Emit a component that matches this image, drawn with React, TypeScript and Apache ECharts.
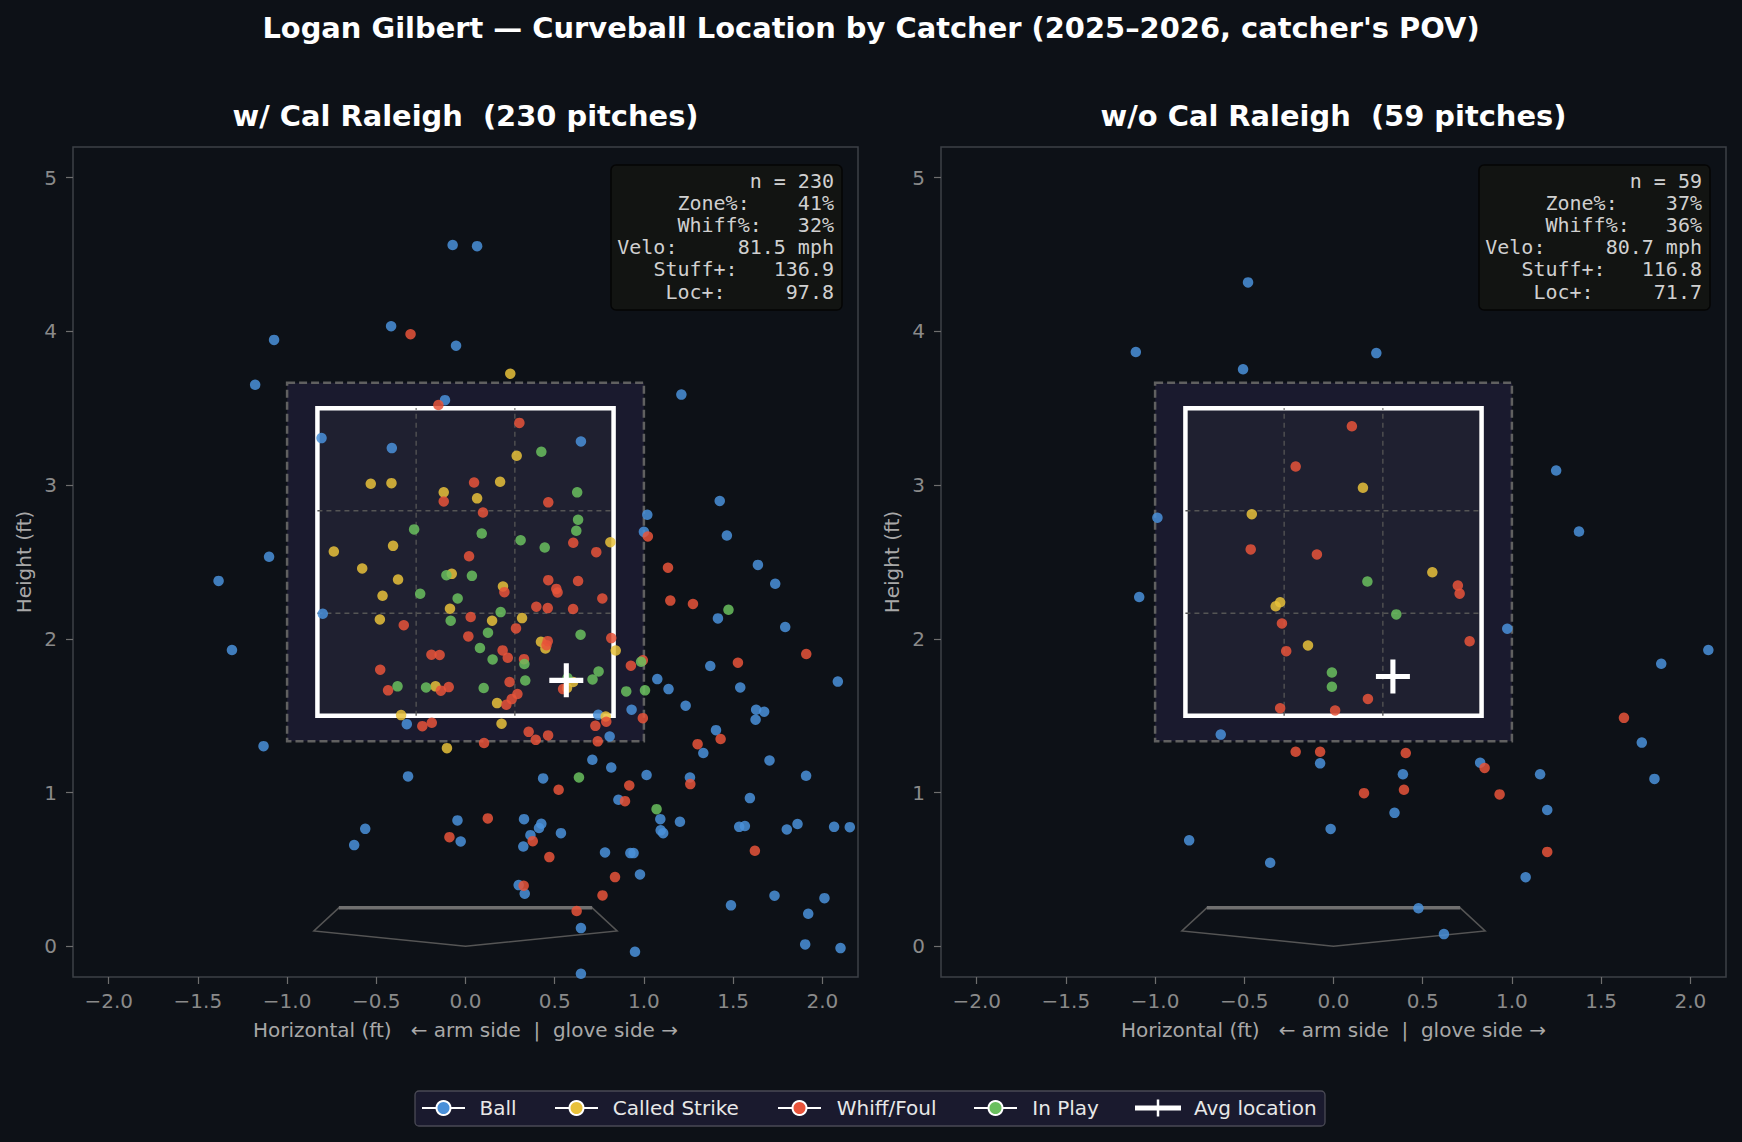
import { useEffect, useRef } from 'react';
import * as echarts from 'echarts';

// ---- chart data -------------------------------------------------------------

const MAIN_TITLE = "Logan Gilbert — Curveball Location by Catcher (2025–2026, catcher's POV)";
const PANEL_NAMES = ['w/ Cal Raleigh', 'w/o Cal Raleigh'];
const PITCH_COUNTS = [230, 59];

const OUTCOMES = ['Ball', 'Called Strike', 'Whiff/Foul', 'In Play'];
const OUTCOME_COLORS = ['#4a90d9', '#e8c13a', '#e8533a', '#6abf5e'];

const X_TICKS = [-2, -1.5, -1, -0.5, 0, 0.5, 1, 1.5, 2];
const Y_TICKS = [0, 1, 2, 3, 4, 5];

// plate_x / plate_z (ft), catcher's view
const withBall: [number, number][] = [
  [-0.115, 3.553], [-0.807, 3.306], [0.647, 3.284], [-0.413, 3.241], [1.019, 2.807], [1.0, 2.696],
  [-0.8, 2.163], [1.075, 1.738],
  [-0.329, 1.445], [-1.132, 1.302], [-0.322, 1.105], [0.435, 1.092], [-0.562, 0.764], [-0.624, 0.658],
  [-0.045, 0.819], [-0.027, 0.682], [0.328, 0.827], [0.425, 0.797], [0.412, 0.769], [0.364, 0.723],
  [0.324, 0.649], [0.535, 0.736], [0.298, 0.398], [0.332, 0.342],
  [0.744, 1.506], [0.931, 1.539], [0.808, 1.365], [1.234, 1.565], [1.629, 1.539], [1.674, 1.526],
  [1.626, 1.474], [1.404, 1.406], [1.333, 1.257], [1.704, 1.209], [1.909, 1.109], [0.711, 1.213],
  [0.817, 1.163], [1.015, 1.114], [1.258, 1.098], [0.857, 0.953], [1.594, 0.964], [1.092, 0.827],
  [1.202, 0.81], [1.094, 0.754], [1.108, 0.736], [1.534, 0.777], [1.566, 0.782], [1.801, 0.76],
  [1.861, 0.795], [2.066, 0.777], [2.154, 0.775], [0.782, 0.61], [0.924, 0.606], [0.942, 0.606],
  [0.978, 0.467], [1.732, 0.329], [1.488, 0.266], [2.012, 0.313], [1.921, 0.211], [0.647, 0.118],
  [0.95, -0.036], [1.904, 0.012], [2.102, -0.012], [0.647, -0.179],
  [-0.072, 4.562], [0.065, 4.555], [-0.417, 4.034], [-0.053, 3.907], [-1.073, 3.945], [-1.179, 3.653],
  [-1.101, 2.534], [-1.384, 2.377], [-1.309, 1.927], [1.21, 3.589], [1.425, 2.897], [1.465, 2.672],
  [1.639, 2.481], [1.736, 2.358], [1.415, 2.133], [1.792, 2.077], [1.372, 1.823], [2.087, 1.722],
  [1.138, 1.673], [1.54, 1.684],
];
const withCalledStrike: [number, number][] = [
  [0.251, 3.725], [0.287, 3.191], [-0.531, 3.009], [-0.415, 3.013], [0.194, 3.022], [-0.122, 2.953],
  [0.065, 2.914], [0.812, 2.629], [-0.738, 2.568], [-0.406, 2.605], [-0.579, 2.458], [-0.077, 2.423],
  [-0.378, 2.386], [0.21, 2.341], [-0.465, 2.28], [-0.087, 2.196], [-0.48, 2.126], [0.149, 2.118],
  [0.317, 2.135], [0.423, 1.981], [0.448, 1.937], [0.842, 1.924], [0.603, 1.719], [0.569, 1.68],
  [-0.168, 1.691],
  [0.177, 1.582], [-0.361, 1.504], [0.202, 1.448], [-0.104, 1.289], [0.786, 1.495],
];
const withWhiffFoul: [number, number][] = [
  [-0.152, 3.521], [0.302, 3.405], [0.048, 3.017], [-0.122, 2.894], [0.464, 2.888], [0.098, 2.822],
  [1.022, 2.666], [0.604, 2.625], [0.733, 2.564], [0.02, 2.537], [0.464, 2.382], [0.631, 2.376],
  [0.218, 2.304], [0.509, 2.325], [0.516, 2.302], [0.767, 2.263], [0.397, 2.209], [0.461, 2.2],
  [0.603, 2.194], [0.029, 2.142], [-0.346, 2.089], [0.283, 2.068], [0.016, 2.016], [0.817, 2.005],
  [0.461, 1.985], [0.454, 1.959], [0.208, 1.925], [0.237, 1.877], [-0.191, 1.897], [-0.145, 1.895],
  [0.328, 1.868], [0.927, 1.825], [0.994, 1.86], [-0.478, 1.799], [0.247, 1.719], [0.547, 1.673],
  [-0.434, 1.665], [-0.138, 1.663], [-0.094, 1.686], [0.291, 1.641], [0.259, 1.608],
  [0.229, 1.571], [-0.242, 1.432], [-0.189, 1.454], [0.354, 1.395], [0.394, 1.343], [0.463, 1.372],
  [0.104, 1.322], [0.522, 1.018], [0.125, 0.832], [-0.09, 0.71], [0.377, 0.684], [0.47, 0.58],
  [0.326, 0.394],
  [0.789, 1.461], [0.728, 1.434], [0.994, 1.484], [0.741, 1.333], [1.43, 1.348], [1.301, 1.315],
  [1.26, 1.055], [0.918, 1.046], [0.894, 0.944], [1.622, 0.621], [0.838, 0.45], [0.768, 0.331],
  [0.623, 0.229],
  [-0.308, 3.982], [1.135, 2.463], [1.148, 2.249], [1.275, 2.227], [1.91, 1.901], [1.527, 1.845],
];
const withInPlay: [number, number][] = [
  [0.425, 3.217], [0.626, 2.953], [0.631, 2.775], [-0.288, 2.712], [0.091, 2.685], [0.621, 2.703],
  [0.309, 2.642], [0.444, 2.594], [-0.107, 2.414], [0.036, 2.41], [-0.254, 2.293], [-0.044, 2.263],
  [0.197, 2.174], [-0.083, 2.118], [0.126, 2.04], [0.645, 2.027], [0.081, 1.94], [0.152, 1.866],
  [0.33, 1.836], [0.984, 1.851], [0.746, 1.788], [0.712, 1.736], [0.335, 1.729], [0.572, 1.745],
  [-0.381, 1.691], [-0.221, 1.684], [0.102, 1.68], [0.901, 1.658], [1.006, 1.665],
  [0.636, 1.098], [1.071, 0.892], [1.474, 2.189],
];

const withoutBall: [number, number][] = [
  [-0.479, 4.319], [-1.108, 3.866], [-0.507, 3.754], [0.24, 3.859], [1.248, 3.095], [-0.987, 2.788],
  [1.376, 2.698], [-1.089, 2.272], [0.974, 2.066], [2.101, 1.927], [1.837, 1.838], [-0.632, 1.377],
  [1.728, 1.325], [-0.075, 1.19], [0.389, 1.119], [0.822, 1.194], [1.158, 1.119], [1.799, 1.089],
  [0.342, 0.868], [1.198, 0.887], [-0.016, 0.763], [-0.809, 0.689], [-0.355, 0.543], [1.077, 0.449],
  [0.476, 0.247], [0.619, 0.079],
];
const withoutCalledStrike: [number, number][] = [
  [0.165, 2.983], [-0.458, 2.811], [0.554, 2.433], [-0.299, 2.238], [-0.324, 2.212], [-0.143, 1.957],
];
const withoutWhiffFoul: [number, number][] = [
  [0.103, 3.383], [-0.212, 3.121], [-0.464, 2.582], [-0.093, 2.549], [0.697, 2.347], [0.707, 2.294],
  [-0.289, 2.1], [-0.265, 1.92], [0.763, 1.984], [0.193, 1.609], [-0.299, 1.549], [0.009, 1.534],
  [1.628, 1.486], [-0.212, 1.265], [-0.075, 1.265], [0.405, 1.257], [0.847, 1.16], [0.171, 0.996],
  [0.395, 1.018], [0.931, 0.988], [1.198, 0.614],
];
const withoutInPlay: [number, number][] = [
  [0.19, 2.373], [0.352, 2.159], [-0.009, 1.781], [-0.009, 1.688],
];

const avgWith: [number, number] = [0.565, 1.73];
const avgWithout: [number, number] = [0.333, 1.755];

const STAT_LABELS = ['Zone%:', 'Whiff%:', 'Velo:', 'Stuff+:', 'Loc+:'];
const statsWith = ['41%', '32%', '81.5 mph', '136.9', '97.8'];
const statsWithout = ['37%', '36%', '80.7 mph', '116.8', '71.7'];

// strike zone, shadow band and home plate outline, in feet
const ZONE = { left: -0.83, right: 0.83, bottom: 1.5, top: 3.5 };
const SHADOW = { left: -1.0, right: 1.0, bottom: 1.333, top: 3.667 };
const PLATE: [number, number][] = [[-0.71, 0.25], [0.71, 0.25], [0.85, 0.1], [0, 0], [-0.85, 0.1]];

// ---- styling / layout -------------------------------------------------------

const BG = '#0d1117';
const SANS = '"DejaVu Sans", "Noto Sans", sans-serif';
const MONO = '"DejaVu Sans Mono", monospace';
const GRID_LEFT = [73, 941];
const GRID_TOP = 147;
const GRID_W = 785;
const GRID_H = 830;
const CROSS_PATH = 'path://M0 42.5H100V57.5H0Z M42.5 0H57.5V100H42.5Z';

const fmtX = (v: number) => (v < 0 ? '\u2212' : '') + Math.abs(v).toFixed(1);

function renderZone(_params: any, api: any) {
  const pt = (x: number, y: number) => api.coord([x, y]);
  const box = (b: { left: number; right: number; bottom: number; top: number }) => {
    const a = pt(b.left, b.top);
    const c = pt(b.right, b.bottom);
    return { x: a[0], y: a[1], width: c[0] - a[0], height: c[1] - a[1] };
  };
  const children: any[] = [
    {
      type: 'rect',
      shape: box(SHADOW),
      style: { fill: '#1a1a2e', stroke: '#606060', lineWidth: 2.5, lineDash: [8, 4] },
    },
    {
      type: 'rect',
      shape: box(ZONE),
      style: { fill: '#1f2030', stroke: '#ffffff', lineWidth: 4.5 },
    },
  ];
  const dx = (ZONE.right - ZONE.left) / 3;
  const dy = (ZONE.top - ZONE.bottom) / 3;
  for (const k of [1, 2]) {
    const vx = ZONE.left + k * dx;
    const a = pt(vx, ZONE.bottom);
    const b = pt(vx, ZONE.top);
    children.push({
      type: 'line',
      shape: { x1: a[0], y1: a[1], x2: b[0], y2: b[1] },
      style: { stroke: '#555555', lineWidth: 1.3, lineDash: [5, 4] },
    });
    const hy = ZONE.bottom + k * dy;
    const c = pt(ZONE.left, hy);
    const d = pt(ZONE.right, hy);
    children.push({
      type: 'line',
      shape: { x1: c[0], y1: c[1], x2: d[0], y2: d[1] },
      style: { stroke: '#555555', lineWidth: 1.3, lineDash: [5, 4] },
    });
  }
  children.push({
    type: 'polygon',
    shape: { points: PLATE.map(([x, y]) => pt(x, y)) },
    style: { fill: 'none', stroke: '#555555', lineWidth: 1.5 },
  });
  const t0 = pt(PLATE[0][0], PLATE[0][1]);
  const t1 = pt(PLATE[1][0], PLATE[1][1]);
  children.push({
    type: 'line',
    shape: { x1: t0[0], y1: t0[1], x2: t1[0], y2: t1[1] },
    style: { stroke: '#707070', lineWidth: 3.5 },
  });
  return { type: 'group', children };
}

function buildOption() {
  const panels = [
    { outcomes: [withBall, withCalledStrike, withWhiffFoul, withInPlay], avg: avgWith, stats: statsWith },
    { outcomes: [withoutBall, withoutCalledStrike, withoutWhiffFoul, withoutInPlay], avg: avgWithout, stats: statsWithout },
  ];

  const series: any[] = [];
  panels.forEach((p, i) => {
    series.push({
      type: 'custom',
      xAxisIndex: i,
      yAxisIndex: i,
      data: [[0, 0]],
      renderItem: renderZone,
      silent: true,
      z: 1,
    });
    p.outcomes.forEach((pts, k) => {
      series.push({
        type: 'scatter',
        name: OUTCOMES[k],
        xAxisIndex: i,
        yAxisIndex: i,
        data: pts,
        symbol: 'circle',
        symbolSize: 10.5,
        itemStyle: { color: OUTCOME_COLORS[k], opacity: 0.85 },
        silent: true,
        z: 2,
      });
    });
    series.push({
      type: 'scatter',
      name: 'Avg location',
      xAxisIndex: i,
      yAxisIndex: i,
      data: [p.avg],
      symbol: CROSS_PATH,
      symbolSize: 34,
      itemStyle: { color: '#ffffff', opacity: 1 },
      silent: true,
      z: 3,
    });
  });

  const graphic: any[] = [
    {
      type: 'text',
      x: 871,
      y: 28,
      style: {
        text: MAIN_TITLE, fill: '#ffffff', font: `bold 28.9px ${SANS}`,
        align: 'center', verticalAlign: 'middle', textAlign: 'center', textVerticalAlign: 'middle',
      },
    },
  ];

  panels.forEach((p, i) => {
    const cx = GRID_LEFT[i] + GRID_W / 2;
    graphic.push({
      type: 'text',
      x: cx,
      y: 116,
      style: {
        text: `${PANEL_NAMES[i]}  (${PITCH_COUNTS[i]} pitches)`, fill: '#ffffff', font: `bold 28.9px ${SANS}`,
        align: 'center', verticalAlign: 'middle', textAlign: 'center', textVerticalAlign: 'middle',
      },
    });
    const right = GRID_LEFT[i] + GRID_W - 16;
    graphic.push({
      type: 'rect',
      shape: { x: right - 231, y: 165, width: 231, height: 145, r: 5 },
      style: { fill: '#121412', stroke: '#050505', lineWidth: 1.5 },
    });
    const textRight = right - 8;
    const lines = [`n = ${PITCH_COUNTS[i]}`, ...STAT_LABELS.map((l, k) => l.padEnd(10, ' ') + p.stats[k])];
    lines.forEach((line, k) => {
      graphic.push({
        type: 'text',
        x: textRight,
        y: 180.5 + k * 22.2,
        style: {
          text: line, fill: '#d0d0d0', font: `20px ${MONO}`,
          align: 'right', verticalAlign: 'middle', textAlign: 'right', textVerticalAlign: 'middle',
        },
      });
    });
  });

  // legend strip
  const LY = 1108;
  graphic.push({
    type: 'rect',
    shape: { x: 415, y: 1091, width: 910, height: 35, r: 4 },
    style: { fill: '#1a1a2e', stroke: '#4a4a55', lineWidth: 1.3 },
  });
  const legendX = [443.5, 576.5, 799.5, 995.5];
  const legendTextX = [479.5, 612.7, 836.7, 1032.3];
  OUTCOMES.forEach((name, k) => {
    const cx = legendX[k];
    graphic.push({
      type: 'line',
      shape: { x1: cx - 21.5, y1: LY, x2: cx + 21.5, y2: LY },
      style: { stroke: '#ffffff', lineWidth: 2 },
    });
    graphic.push({
      type: 'circle',
      shape: { cx, cy: LY, r: 7 },
      style: { fill: OUTCOME_COLORS[k], stroke: '#ffffff', lineWidth: 2 },
    });
    graphic.push({
      type: 'text',
      x: legendTextX[k],
      y: LY,
      style: {
        text: name, fill: '#e8e8e8', font: `20px ${SANS}`,
        align: 'left', verticalAlign: 'middle', textAlign: 'left', textVerticalAlign: 'middle',
      },
    });
  });
  graphic.push({
    type: 'rect',
    shape: { x: 1135, y: LY - 2.5, width: 46, height: 5 },
    style: { fill: '#ffffff' },
  });
  graphic.push({
    type: 'line',
    shape: { x1: 1158, y1: LY - 8.5, x2: 1158, y2: LY + 8.5 },
    style: { stroke: '#ffffff', lineWidth: 2.5 },
  });
  graphic.push({
    type: 'text',
    x: 1194,
    y: LY,
    style: {
      text: 'Avg location', fill: '#e8e8e8', font: `20px ${SANS}`,
      align: 'left', verticalAlign: 'middle', textAlign: 'left', textVerticalAlign: 'middle',
    },
  });

  const axisCommon = {
    type: 'value',
    axisLine: { show: false, onZero: false },
    splitLine: { show: false },
  };

  return {
    animation: false,
    backgroundColor: BG,
    grid: GRID_LEFT.map((left) => ({
      left,
      top: GRID_TOP,
      width: GRID_W,
      height: GRID_H,
      show: true,
      borderColor: '#3d4047',
      borderWidth: 1.5,
      backgroundColor: 'transparent',
    })),
    xAxis: GRID_LEFT.map((_, i) => ({
      ...axisCommon,
      gridIndex: i,
      position: 'bottom',
      min: -2.2,
      max: 2.2,
      name: 'Horizontal (ft)   \u2190 arm side  |  glove side \u2192',
      nameLocation: 'middle',
      nameGap: 42.5,
      nameTextStyle: { color: '#a8a8a8', fontSize: 20, fontFamily: SANS },
      axisTick: { show: true, customValues: X_TICKS, length: 7, lineStyle: { color: '#6e6e6e', width: 1.2 } },
      axisLabel: { customValues: X_TICKS, formatter: fmtX, color: '#8a8a8a', fontSize: 20, margin: 14, fontFamily: SANS },
    })),
    yAxis: GRID_LEFT.map((_, i) => ({
      ...axisCommon,
      gridIndex: i,
      position: 'left',
      min: -0.2,
      max: 5.2,
      name: 'Height (ft)',
      nameLocation: 'middle',
      nameGap: 39.5,
      nameRotate: 90,
      nameTextStyle: { color: '#a8a8a8', fontSize: 20, fontFamily: SANS },
      axisTick: { show: true, customValues: Y_TICKS, length: 7, lineStyle: { color: '#6e6e6e', width: 1.2 } },
      axisLabel: { customValues: Y_TICKS, formatter: (v: number) => String(v), color: '#8a8a8a', fontSize: 20, margin: 16, fontFamily: SANS },
    })),
    series,
    graphic,
  };
}

export default function App() {
  const ref = useRef<HTMLDivElement>(null);
  useEffect(() => {
    document.body.style.margin = '0';
    document.body.style.background = BG;
    const chart = echarts.init(ref.current!, null, { renderer: 'svg' });
    chart.setOption(buildOption() as any);
    return () => chart.dispose();
  }, []);
  return (
    <div
      ref={ref}
      style={{ position: 'absolute', left: 0, top: 0, width: 1742, height: 1142, background: BG }}
    />
  );
}
